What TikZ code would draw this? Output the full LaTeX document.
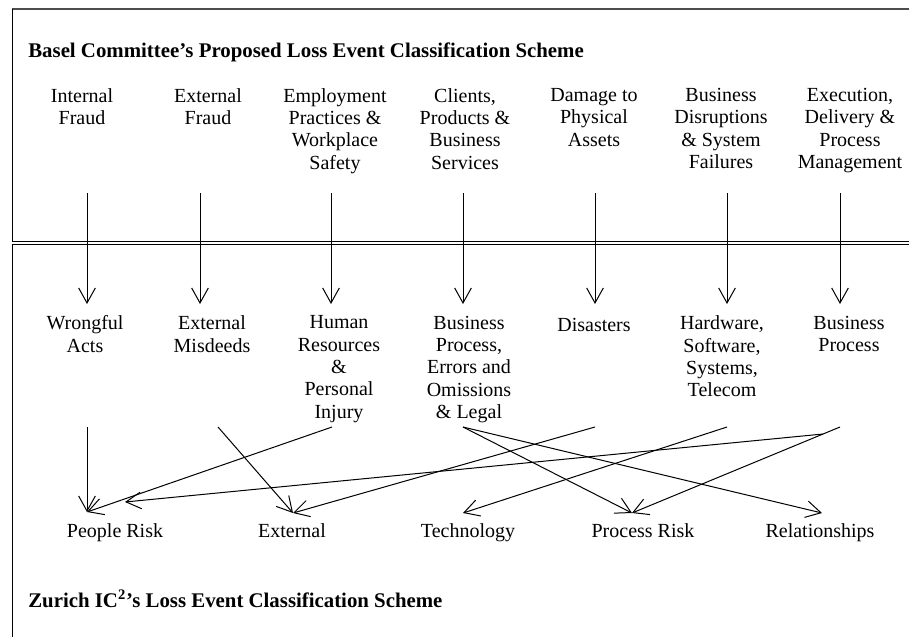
\documentclass[tikz,border=0pt]{standalone}
\usepackage{fontspec}
\setmainfont{Liberation Serif}
\usetikzlibrary{arrows.meta}

\begin{document}
\begin{tikzpicture}[x=0.6pt,y=-0.6pt,
	lbl/.style={align=center, anchor=north, inner sep=0pt, font=\fontsize{12}{13.4}\selectfont, execute at begin node=\strut},
	cls/.style={anchor=base, inner sep=0pt, font=\fontsize{12}{13.4}\selectfont},
	hdr/.style={anchor=base west, inner sep=0pt, font=\fontsize{12.5}{14}\selectfont\bfseries},
	arr/.style={line width=0.6pt, -{Straight Barb[length=9pt,width=10pt]}}]
	\useasboundingbox (0,0) rectangle (909,637);
	
	\draw[line width=1.2pt, black!70] (12,9) -- (909,9);
	\draw[line width=0.6pt] (12,9) -- (12,637);
	\draw[line width=0.6pt, double, double distance=1.2pt] (12,242.5) -- (909,242.5);
	
	\node[hdr] (basel) at (28,57) {Basel Committee’s Proposed Loss Event Classification Scheme};
	\node[hdr] (zurich) at (28,607) {Zurich IC\textsuperscript{2}’s Loss Event Classification Scheme};
	
	\node[lbl] (ifraud) at (82,88) {Internal\\Fraud};
	\node[lbl] (efraud) at (208,88) {External\\Fraud};
	\node[lbl] (employ) at (335,88) {Employment\\Practices \&\\Workplace\\Safety};
	\node[lbl] (clients) at (465,88) {Clients,\\Products \&\\Business\\Services};
	\node[lbl] (damage) at (594,88) {Damage to\\Physical\\Assets};
	\node[lbl] (disrupt) at (721,88) {Business\\Disruptions\\\& System\\Failures};
	\node[lbl] (exec) at (850,88) {Execution,\\Delivery \&\\Process\\Management};
	
	\node[lbl] (wrong) at (85,315.5) {Wrongful\\Acts};
	\node[lbl] (misdeed) at (212,315.5) {External\\Misdeeds};
	\node[lbl] (human) at (339,315.5) {Human\\Resources\\\&\\Personal\\Injury};
	\node[lbl] (bproc) at (469,315.5) {Business\\Process,\\Errors and\\Omissions\\\& Legal};
	\node[lbl] (disaster) at (594,315.5) {Disasters};
	\node[lbl] (hardware) at (722,315.5) {Hardware,\\Software,\\Systems,\\Telecom};
	\node[lbl] (bproc2) at (849,315.5) {Business\\Process};
	
	\node[cls] (people) at (115,537) {People Risk};
	\node[cls] (external) at (292,537) {External};
	\node[cls] (tech) at (468,537) {Technology};
	\node[cls] (process) at (643,537) {Process Risk};
	\node[cls] (relation) at (820,537) {Relationships};
	
	\coordinate (ifraud-o) at (87,193);   \coordinate (wrong-i) at (87,304);
	\coordinate (efraud-o) at (200,193);  \coordinate (misdeed-i) at (200,304);
	\coordinate (employ-o) at (331,193);  \coordinate (human-i) at (331,304);
	\coordinate (clients-o) at (463,193); \coordinate (bproc-i) at (463,304);
	\coordinate (damage-o) at (595,193);  \coordinate (disaster-i) at (595,304);
	\coordinate (disrupt-o) at (727,193); \coordinate (hardware-i) at (727,304);
	\coordinate (exec-o) at (840,193);    \coordinate (bproc2-i) at (840,304);
	
	\coordinate (wrong-o) at (87,427);
	\coordinate (misdeed-o) at (218,427);
	\coordinate (human-o) at (332,427);
	\coordinate (bproc-o) at (463,427);
	\coordinate (disaster-o) at (595,427);
	\coordinate (hardware-o) at (727,427);
	\coordinate (bproc2-o) at (840,427);
	\coordinate (bproc2-o2) at (823,434);
	
	\coordinate (people-i) at (87,512);
	\coordinate (people-i2) at (125,502);
	\coordinate (external-i) at (293,513);
	\coordinate (tech-i) at (463,513);
	\coordinate (process-i) at (632,513);
	\coordinate (relation-i) at (822,513);
	
	\draw[arr] (ifraud-o) -- (wrong-i);
	\draw[arr] (efraud-o) -- (misdeed-i);
	\draw[arr] (employ-o) -- (human-i);
	\draw[arr] (clients-o) -- (bproc-i);
	\draw[arr] (damage-o) -- (disaster-i);
	\draw[arr] (disrupt-o) -- (hardware-i);
	\draw[arr] (exec-o) -- (bproc2-i);
	
	\draw[arr] (wrong-o) -- (people-i);
	\draw[arr] (misdeed-o) -- (external-i);
	\draw[arr] (human-o) -- (people-i);
	\draw[arr] (bproc-o) -- (process-i);
	\draw[arr] (bproc-o) -- (relation-i);
	\draw[arr] (disaster-o) -- (external-i);
	\draw[arr] (hardware-o) -- (tech-i);
	\draw[arr] (bproc2-o) -- (process-i);
	\draw[arr] (bproc2-o2) -- (people-i2);
\end{tikzpicture}
\end{document}
